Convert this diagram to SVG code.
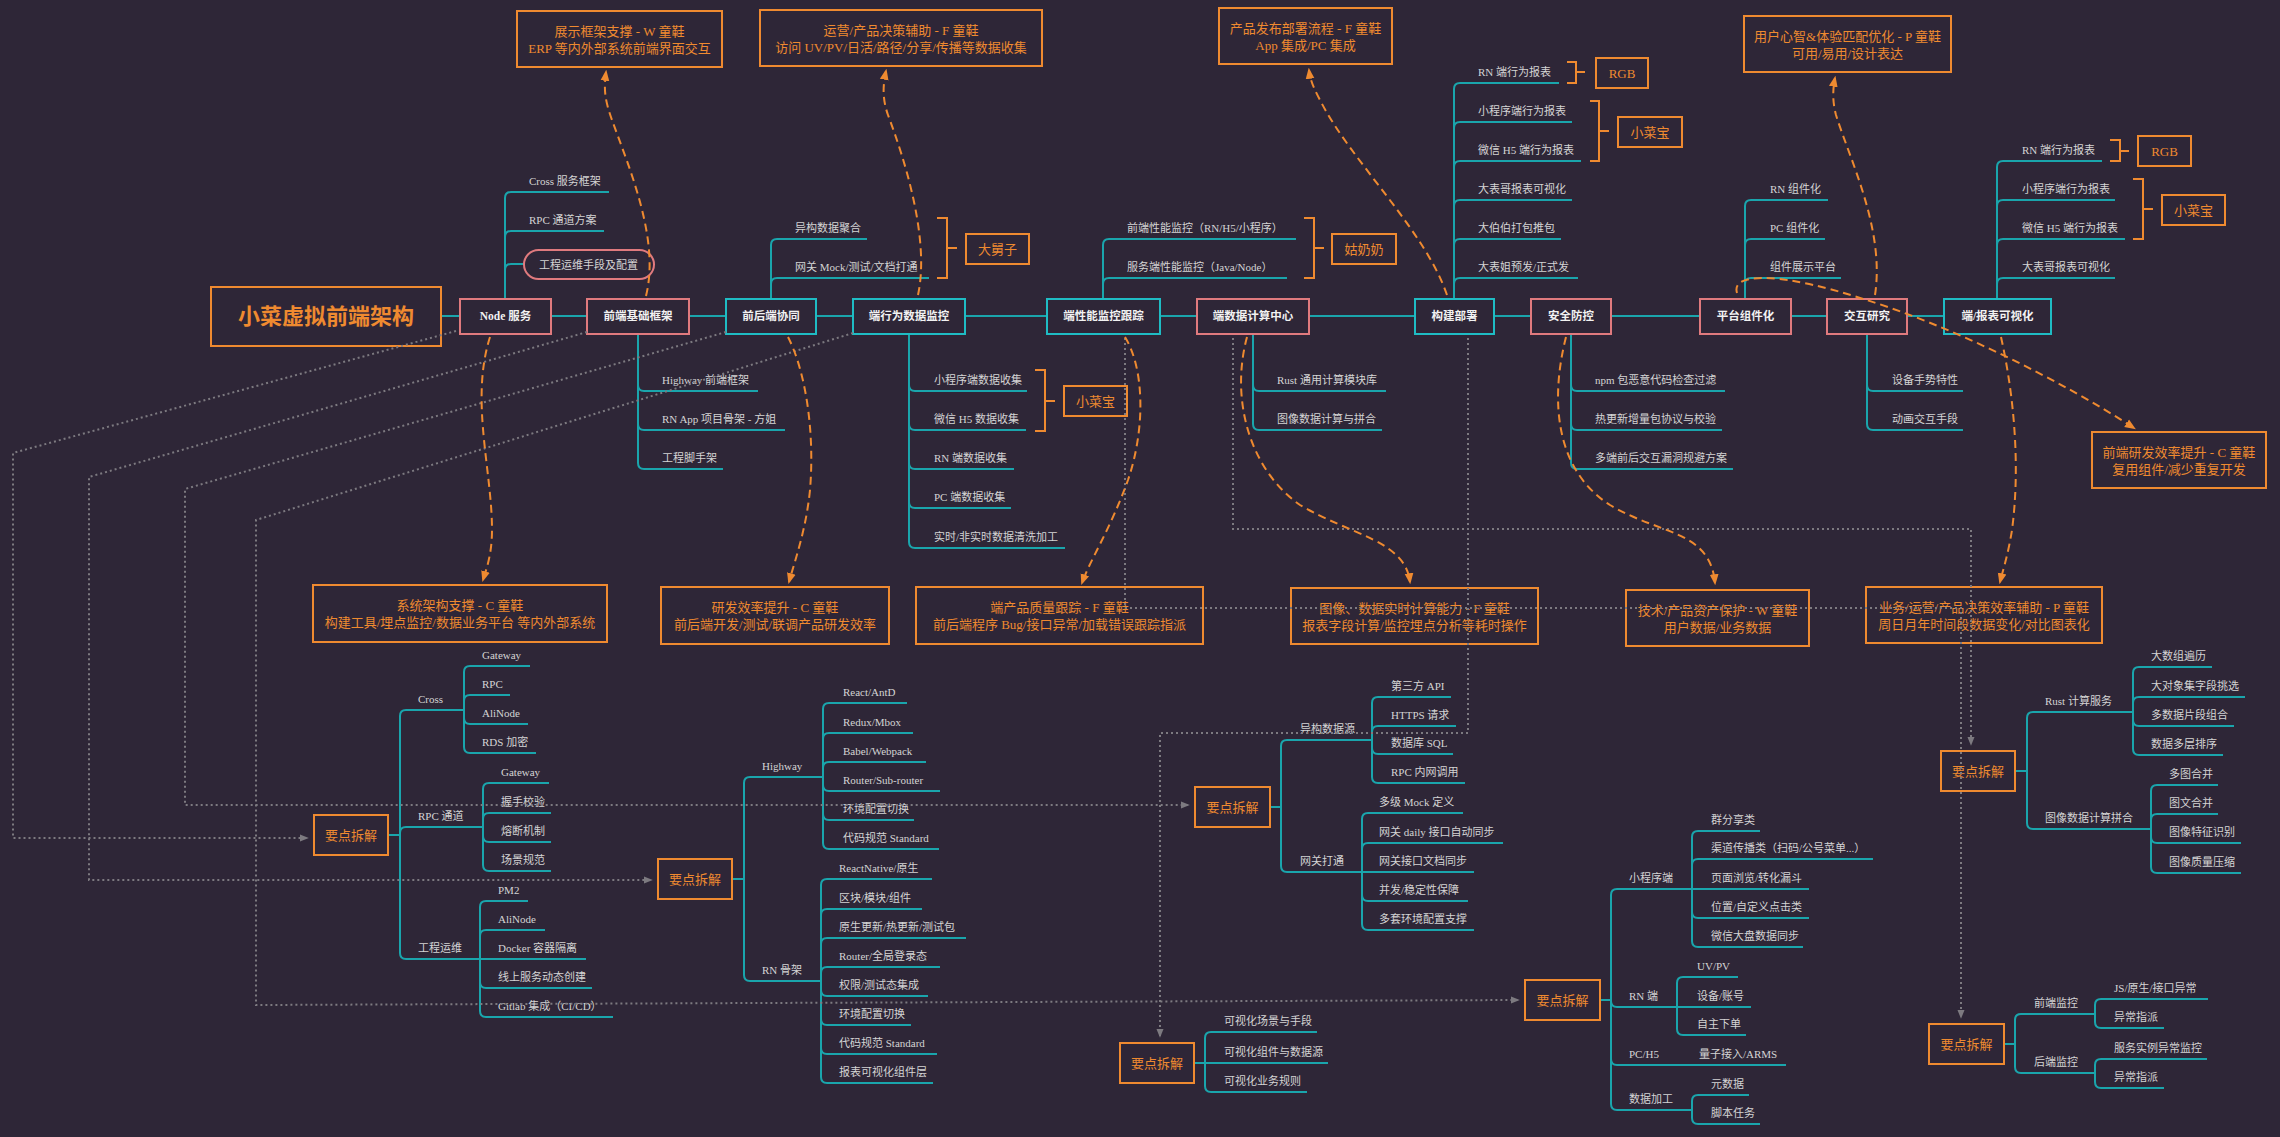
<svg xmlns="http://www.w3.org/2000/svg" width="2280" height="1137" viewBox="0 0 2280 1137">
<defs>
<style>
text { font-family: "Liberation Serif", "Noto Sans CJK SC", serif; }
.t { font-size: 11px; fill: #d4d4d4; }
.nt { font-size: 11.5px; font-weight: bold; fill: #f2f2f2; text-anchor: middle; }
.ot { font-size: 13px; fill: #ef8a30; text-anchor: middle; }
.tt { font-size: 22px; font-weight: bold; fill: #ef8a30; text-anchor: middle; }
.ob { fill: #2e2637; stroke: #ef8a30; stroke-width: 2; }
.pk { fill: #2e2637; stroke: #e07a7e; stroke-width: 2; }
.cy { fill: #2e2637; stroke: #1fbcc4; stroke-width: 2; }
.br { fill: none; stroke: #1aa5ac; stroke-width: 2; }
.bk { fill: none; stroke: #ef8a30; stroke-width: 2; }
.dt { fill: none; stroke: #7d7a80; stroke-width: 2; stroke-dasharray: 2 3; }
.ds { fill: none; stroke: #ef8a30; stroke-width: 2; stroke-dasharray: 8 5; }
</style>
<marker id="ao" viewBox="0 0 10 10" refX="8" refY="5" markerWidth="11" markerHeight="11" markerUnits="userSpaceOnUse" orient="auto"><path d="M0,1 L10,5 L0,9 z" fill="#ef8a30"/></marker>
<marker id="ag" viewBox="0 0 10 10" refX="8" refY="5" markerWidth="9" markerHeight="9" markerUnits="userSpaceOnUse" orient="auto"><path d="M0,1 L10,5 L0,9 z" fill="#7d7a80"/></marker>
</defs>
<rect width="2280" height="1137" fill="#2e2637"/>

<g id="tree-lines" class="br">
<path d="M441,316H1944"/>
<path d="M505,299V198Q505,192 511,192H609M505,299V237Q505,231 511,231H604M505,299V270Q505,264 511,264H524"/>
<path d="M638,334V385Q638,391 644,391H758M638,334V424Q638,430 644,430H785M638,334V463Q638,469 644,469H723"/>
<path d="M771,299V245Q771,239 777,239H867M771,299V284Q771,278 777,278H929"/>
<path d="M909,334V385Q909,391 915,391H1027M909,334V424Q909,430 915,430H1026M909,334V463Q909,469 915,469H1014M909,334V502Q909,508 915,508H1011M909,334V542Q909,548 915,548H1065"/>
<path d="M1103,299V245Q1103,239 1109,239H1296M1103,299V284Q1103,278 1109,278H1287"/>
<path d="M1253,334V385Q1253,391 1259,391H1386M1253,334V424Q1253,430 1259,430H1382"/>
<path d="M1454,299V89Q1454,83 1460,83H1559M1454,299V128Q1454,122 1460,122H1572M1454,299V167Q1454,161 1460,161H1581M1454,299V206Q1454,200 1460,200H1572M1454,299V245Q1454,239 1460,239H1561M1454,299V284Q1454,278 1460,278H1578"/>
<path d="M1571,334V385Q1571,391 1577,391H1725M1571,334V424Q1571,430 1577,430H1722M1571,334V463Q1571,469 1577,469H1733"/>
<path d="M1745,299V206Q1745,200 1751,200H1828M1745,299V245Q1745,239 1751,239H1825M1745,299V284Q1745,278 1751,278H1841"/>
<path d="M1867,334V385Q1867,391 1873,391H1963M1867,334V424Q1867,430 1873,430H1963"/>
<path d="M1997,299V167Q1997,161 2003,161H2102M1997,299V206Q1997,200 2003,200H2115M1997,299V245Q1997,239 2003,239H2125M1997,299V284Q1997,278 2003,278H2115"/>
<path d="M388,835H400M400,835V716Q400,710 406,710H464M400,835V833Q400,827 406,827H483M400,835V953Q400,959 406,959H480"/>
<path d="M464,710V672Q464,666 470,666H530M464,710V701Q464,695 470,695H510M464,710V718Q464,724 470,724H528M464,710V747Q464,753 470,753H536"/>
<path d="M483,827V789Q483,783 489,783H549M483,827V819Q483,813 489,813H551M483,827V836Q483,842 489,842H551M483,827V865Q483,871 489,871H551"/>
<path d="M480,959V907Q480,901 486,901H528M480,959V936Q480,930 486,930H545M480,959H586M480,959V982Q480,988 486,988H592M480,959V1011Q480,1017 486,1017H613"/>
<path d="M732,879H744M744,879V783Q744,777 750,777H823M744,879V975Q744,981 750,981H821"/>
<path d="M823,777V709Q823,703 829,703H907M823,777V739Q823,733 829,733H913M823,777V768Q823,762 829,762H926M823,777V785Q823,791 829,791H940M823,777V814Q823,820 829,820H914M823,777V843Q823,849 829,849H939"/>
<path d="M821,981V885Q821,879 827,879H932M821,981V915Q821,909 827,909H922M821,981V944Q821,938 827,938H966M821,981V973Q821,967 827,967H940M821,981V990Q821,996 827,996H928M821,981V1019Q821,1025 827,1025H911M821,981V1048Q821,1054 827,1054H937M821,981V1077Q821,1083 827,1083H933"/>
<path d="M1270,807H1281M1281,807V746Q1281,740 1287,740H1372M1281,807V866Q1281,872 1287,872H1362"/>
<path d="M1372,740V703Q1372,697 1378,697H1451M1372,740V732Q1372,726 1378,726H1456M1372,740V748Q1372,754 1378,754H1453M1372,740V777Q1372,783 1378,783H1465"/>
<path d="M1362,872V819Q1362,813 1368,813H1463M1362,872V849Q1362,843 1368,843H1503M1362,872H1474M1362,872V895Q1362,901 1368,901H1468M1362,872V924Q1362,930 1368,930H1474"/>
<path d="M1600,1000H1611M1611,1000V895Q1611,889 1617,889H1692M1611,1000V1001Q1611,1007 1617,1007H1677M1611,1000V1059Q1611,1065 1617,1065H1786M1611,1000V1104Q1611,1110 1617,1110H1692"/>
<path d="M1692,889V837Q1692,831 1698,831H1760M1692,889V865Q1692,859 1698,859H1873M1692,889H1809M1692,889V912Q1692,918 1698,918H1809M1692,889V941Q1692,947 1698,947H1803"/>
<path d="M1677,1007V983Q1677,977 1683,977H1738M1677,1007H1751M1677,1007V1029Q1677,1035 1683,1035H1746"/>
<path d="M1692,1110V1101Q1692,1095 1698,1095H1749M1692,1110V1118Q1692,1124 1698,1124H1760"/>
<path d="M2015,771H2027M2027,771V718Q2027,712 2033,712H2133M2027,771V823Q2027,829 2033,829H2151"/>
<path d="M2133,712V673Q2133,667 2139,667H2212M2133,712V703Q2133,697 2139,697H2245M2133,712V720Q2133,726 2139,726H2234M2133,712V749Q2133,755 2139,755H2223"/>
<path d="M2151,829V791Q2151,785 2157,785H2218M2151,829V820Q2151,814 2157,814H2218M2151,829V837Q2151,843 2157,843H2241M2151,829V867Q2151,873 2157,873H2241"/>
<path d="M2004,1044H2015M2015,1044V1020Q2015,1014 2021,1014H2095M2015,1044V1067Q2015,1073 2021,1073H2095"/>
<path d="M2095,1014V1005Q2095,999 2101,999H2208M2095,1014V1022Q2095,1028 2101,1028H2164M2095,1073V1065Q2095,1059 2101,1059H2207M2095,1073V1082Q2095,1088 2101,1088H2164"/>
<path d="M1194,1063H1205M1205,1063V1038Q1205,1032 1211,1032H1317M1205,1063H1328M1205,1063V1086Q1205,1092 1211,1092H1307"/>
</g>

<g id="labels">
<text class="t" x="529" y="185">Cross 服务框架</text>
<text class="t" x="529" y="224">RPC 通道方案</text>
<text class="t" x="662" y="384">Highway 前端框架</text>
<text class="t" x="662" y="423">RN App 项目骨架 - 方姐</text>
<text class="t" x="662" y="462">工程脚手架</text>
<text class="t" x="795" y="232">异构数据聚合</text>
<text class="t" x="795" y="271">网关 Mock/测试/文档打通</text>
<text class="t" x="934" y="384">小程序端数据收集</text>
<text class="t" x="934" y="423">微信 H5 数据收集</text>
<text class="t" x="934" y="462">RN 端数据收集</text>
<text class="t" x="934" y="501">PC 端数据收集</text>
<text class="t" x="934" y="541">实时/非实时数据清洗加工</text>
<text class="t" x="1127" y="232">前端性能监控（RN/H5/小程序）</text>
<text class="t" x="1127" y="271">服务端性能监控（Java/Node）</text>
<text class="t" x="1277" y="384">Rust 通用计算模块库</text>
<text class="t" x="1277" y="423">图像数据计算与拼合</text>
<text class="t" x="1478" y="76">RN 端行为报表</text>
<text class="t" x="1478" y="115">小程序端行为报表</text>
<text class="t" x="1478" y="154">微信 H5 端行为报表</text>
<text class="t" x="1478" y="193">大表哥报表可视化</text>
<text class="t" x="1478" y="232">大伯伯打包推包</text>
<text class="t" x="1478" y="271">大表姐预发/正式发</text>
<text class="t" x="1595" y="384">npm 包恶意代码检查过滤</text>
<text class="t" x="1595" y="423">热更新增量包协议与校验</text>
<text class="t" x="1595" y="462">多端前后交互漏洞规避方案</text>
<text class="t" x="1770" y="193">RN 组件化</text>
<text class="t" x="1770" y="232">PC 组件化</text>
<text class="t" x="1770" y="271">组件展示平台</text>
<text class="t" x="1892" y="384">设备手势特性</text>
<text class="t" x="1892" y="423">动画交互手段</text>
<text class="t" x="2022" y="154">RN 端行为报表</text>
<text class="t" x="2022" y="193">小程序端行为报表</text>
<text class="t" x="2022" y="232">微信 H5 端行为报表</text>
<text class="t" x="2022" y="271">大表哥报表可视化</text>

<text class="t" x="418" y="703">Cross</text>
<text class="t" x="418" y="820">RPC 通道</text>
<text class="t" x="418" y="952">工程运维</text>
<text class="t" x="482" y="659">Gateway</text>
<text class="t" x="482" y="688">RPC</text>
<text class="t" x="482" y="717">AliNode</text>
<text class="t" x="482" y="746">RDS 加密</text>
<text class="t" x="501" y="776">Gateway</text>
<text class="t" x="501" y="806">握手校验</text>
<text class="t" x="501" y="835">熔断机制</text>
<text class="t" x="501" y="864">场景规范</text>
<text class="t" x="498" y="894">PM2</text>
<text class="t" x="498" y="923">AliNode</text>
<text class="t" x="498" y="952">Docker 容器隔离</text>
<text class="t" x="498" y="981">线上服务动态创建</text>
<text class="t" x="498" y="1010">Gitlab 集成（CI/CD）</text>

<text class="t" x="762" y="770">Highway</text>
<text class="t" x="762" y="974">RN 骨架</text>
<text class="t" x="843" y="696">React/AntD</text>
<text class="t" x="843" y="726">Redux/Mbox</text>
<text class="t" x="843" y="755">Babel/Webpack</text>
<text class="t" x="843" y="784">Router/Sub-router</text>
<text class="t" x="843" y="813">环境配置切换</text>
<text class="t" x="843" y="842">代码规范 Standard</text>
<text class="t" x="839" y="872">ReactNative/原生</text>
<text class="t" x="839" y="902">区块/模块/组件</text>
<text class="t" x="839" y="931">原生更新/热更新/测试包</text>
<text class="t" x="839" y="960">Router/全局登录态</text>
<text class="t" x="839" y="989">权限/测试态集成</text>
<text class="t" x="839" y="1018">环境配置切换</text>
<text class="t" x="839" y="1047">代码规范 Standard</text>
<text class="t" x="839" y="1076">报表可视化组件层</text>

<text class="t" x="1300" y="733">异构数据源</text>
<text class="t" x="1300" y="865">网关打通</text>
<text class="t" x="1391" y="690">第三方 API</text>
<text class="t" x="1391" y="719">HTTPS 请求</text>
<text class="t" x="1391" y="747">数据库 SQL</text>
<text class="t" x="1391" y="776">RPC 内网调用</text>
<text class="t" x="1379" y="806">多级 Mock 定义</text>
<text class="t" x="1379" y="836">网关 daily 接口自动同步</text>
<text class="t" x="1379" y="865">网关接口文档同步</text>
<text class="t" x="1379" y="894">并发/稳定性保障</text>
<text class="t" x="1379" y="923">多套环境配置支撑</text>

<text class="t" x="1629" y="882">小程序端</text>
<text class="t" x="1629" y="1000">RN 端</text>
<text class="t" x="1629" y="1058">PC/H5</text>
<text class="t" x="1699" y="1058">量子接入/ARMS</text>
<text class="t" x="1629" y="1103">数据加工</text>
<text class="t" x="1711" y="824">群分享类</text>
<text class="t" x="1711" y="852">渠道传播类（扫码/公号菜单...）</text>
<text class="t" x="1711" y="882">页面浏览/转化漏斗</text>
<text class="t" x="1711" y="911">位置/自定义点击类</text>
<text class="t" x="1711" y="940">微信大盘数据同步</text>
<text class="t" x="1697" y="970">UV/PV</text>
<text class="t" x="1697" y="1000">设备/账号</text>
<text class="t" x="1697" y="1028">自主下单</text>
<text class="t" x="1711" y="1088">元数据</text>
<text class="t" x="1711" y="1117">脚本任务</text>

<text class="t" x="2045" y="705">Rust 计算服务</text>
<text class="t" x="2045" y="822">图像数据计算拼合</text>
<text class="t" x="2151" y="660">大数组遍历</text>
<text class="t" x="2151" y="690">大对象集字段挑选</text>
<text class="t" x="2151" y="719">多数据片段组合</text>
<text class="t" x="2151" y="748">数据多层排序</text>
<text class="t" x="2169" y="778">多图合并</text>
<text class="t" x="2169" y="807">图文合并</text>
<text class="t" x="2169" y="836">图像特征识别</text>
<text class="t" x="2169" y="866">图像质量压缩</text>

<text class="t" x="2034" y="1007">前端监控</text>
<text class="t" x="2034" y="1066">后端监控</text>
<text class="t" x="2114" y="992">JS/原生/接口异常</text>
<text class="t" x="2114" y="1021">异常指派</text>
<text class="t" x="2114" y="1052">服务实例异常监控</text>
<text class="t" x="2114" y="1081">异常指派</text>

<text class="t" x="1224" y="1025">可视化场景与手段</text>
<text class="t" x="1224" y="1056">可视化组件与数据源</text>
<text class="t" x="1224" y="1085">可视化业务规则</text>
</g>

<g id="brackets" class="bk">
<path d="M937,218H947V278H937M947,248H957"/>
<path d="M1035,370H1045V431H1035M1045,401H1055"/>
<path d="M1304,218H1314V278H1304M1314,248H1324"/>
<path d="M1567,62H1576V83H1567M1576,72H1585"/>
<path d="M1590,101H1599V161H1590M1599,131H1609"/>
<path d="M2110,140H2120V161H2110M2120,151H2129"/>
<path d="M2133,179H2143V239H2133M2143,209H2153"/>
</g>

<g id="root"><rect class="ob" x="211" y="287" width="230" height="59"/><text class="tt" x="326" y="324">小菜虚拟前端架构</text></g>
<g id="n-node"><rect class="pk" x="460" y="299" width="91" height="35"/><text class="nt" x="505.5" y="320">Node 服务</text></g>
<g id="n-pill"><rect class="pk" x="524" y="250" width="130" height="29" rx="14.5"/><text class="t" x="539" y="268.5">工程运维手段及配置</text></g>
<g id="n-base"><rect class="pk" x="587" y="299" width="102" height="35"/><text class="nt" x="638" y="320">前端基础框架</text></g>
<g id="n-collab"><rect class="cy" x="726" y="299" width="90" height="35"/><text class="nt" x="771" y="320">前后端协同</text></g>
<g id="n-behav"><rect class="cy" x="853" y="299" width="112" height="35"/><text class="nt" x="909" y="320">端行为数据监控</text></g>
<g id="n-perf"><rect class="cy" x="1047" y="299" width="113" height="35"/><text class="nt" x="1103.5" y="320">端性能监控跟踪</text></g>
<g id="n-calc"><rect class="pk" x="1197" y="299" width="112" height="35"/><text class="nt" x="1253" y="320">端数据计算中心</text></g>
<g id="n-build"><rect class="cy" x="1415" y="299" width="79" height="35"/><text class="nt" x="1454.5" y="320">构建部署</text></g>
<g id="n-sec"><rect class="pk" x="1531" y="299" width="80" height="35"/><text class="nt" x="1571" y="320">安全防控</text></g>
<g id="n-comp"><rect class="pk" x="1700" y="299" width="91" height="35"/><text class="nt" x="1745.5" y="320">平台组件化</text></g>
<g id="n-inter"><rect class="pk" x="1827" y="299" width="80" height="35"/><text class="nt" x="1867" y="320">交互研究</text></g>
<g id="n-vis"><rect class="cy" x="1944" y="299" width="107" height="35"/><text class="nt" x="1997.5" y="320">端/报表可视化</text></g>

<g id="tag-dajiuzi"><rect class="ob" x="966" y="234" width="63" height="30"/><text class="ot" x="997.5" y="254">大舅子</text></g>
<g id="tag-xcb1"><rect class="ob" x="1064" y="386" width="63" height="30"/><text class="ot" x="1095.5" y="406">小菜宝</text></g>
<g id="tag-gunainai"><rect class="ob" x="1332" y="234" width="64" height="30"/><text class="ot" x="1364" y="254">姑奶奶</text></g>
<g id="tag-rgb1"><rect class="ob" x="1596" y="58" width="52" height="30"/><text class="ot" x="1622" y="78">RGB</text></g>
<g id="tag-xcb2"><rect class="ob" x="1618" y="117" width="64" height="30"/><text class="ot" x="1650" y="137">小菜宝</text></g>
<g id="tag-rgb2"><rect class="ob" x="2138" y="136" width="53" height="30"/><text class="ot" x="2164.5" y="156">RGB</text></g>
<g id="tag-xcb3"><rect class="ob" x="2162" y="195" width="63" height="30"/><text class="ot" x="2193.5" y="215">小菜宝</text></g>

<g id="goal-1"><rect class="ob" x="517" y="11" width="205" height="56"/><text class="ot" x="619.5" y="36">展示框架支撑 - W 童鞋</text><text class="ot" x="619.5" y="53">ERP 等内外部系统前端界面交互</text></g>
<g id="goal-2"><rect class="ob" x="760" y="10" width="282" height="56"/><text class="ot" x="901" y="35">运营/产品决策辅助 - F 童鞋</text><text class="ot" x="901" y="52">访问 UV/PV/日活/路径/分享/传播等数据收集</text></g>
<g id="goal-3"><rect class="ob" x="1219" y="8" width="173" height="56"/><text class="ot" x="1305.5" y="33">产品发布部署流程 - F 童鞋</text><text class="ot" x="1305.5" y="50">App 集成/PC 集成</text></g>
<g id="goal-4"><rect class="ob" x="1744" y="16" width="207" height="56"/><text class="ot" x="1847.5" y="41">用户心智&amp;体验匹配优化 - P 童鞋</text><text class="ot" x="1847.5" y="58">可用/易用/设计表达</text></g>
<g id="goal-5"><rect class="ob" x="313" y="585" width="294" height="57"/><text class="ot" x="460" y="610">系统架构支撑 - C 童鞋</text><text class="ot" x="460" y="627">构建工具/埋点监控/数据业务平台 等内外部系统</text></g>
<g id="goal-6"><rect class="ob" x="661" y="587" width="228" height="57"/><text class="ot" x="775" y="612">研发效率提升 - C 童鞋</text><text class="ot" x="775" y="629">前后端开发/测试/联调产品研发效率</text></g>
<g id="goal-7"><rect class="ob" x="916" y="587" width="287" height="57"/><text class="ot" x="1059.5" y="612">端产品质量跟踪 - F 童鞋</text><text class="ot" x="1059.5" y="629">前后端程序 Bug/接口异常/加载错误跟踪指派</text></g>
<g id="goal-8"><rect class="ob" x="1291" y="588" width="247" height="56"/><text class="ot" x="1414.5" y="613">图像、数据实时计算能力 - F 童鞋</text><text class="ot" x="1414.5" y="630">报表字段计算/监控埋点分析等耗时操作</text></g>
<g id="goal-9"><rect class="ob" x="1626" y="590" width="183" height="56"/><text class="ot" x="1717.5" y="615">技术/产品资产保护 - W 童鞋</text><text class="ot" x="1717.5" y="632">用户数据/业务数据</text></g>
<g id="goal-10"><rect class="ob" x="1866" y="587" width="236" height="56"/><text class="ot" x="1984" y="612">业务/运营/产品决策效率辅助 - P 童鞋</text><text class="ot" x="1984" y="629">周日月年时间段数据变化/对比图表化</text></g>
<g id="goal-11"><rect class="ob" x="2092" y="432" width="174" height="56"/><text class="ot" x="2179" y="457">前端研发效率提升 - C 童鞋</text><text class="ot" x="2179" y="474">复用组件/减少重复开发</text></g>

<g id="key-1"><rect class="ob" x="314" y="815" width="74" height="40"/><text class="ot" x="351" y="840">要点拆解</text></g>
<g id="key-2"><rect class="ob" x="658" y="859" width="74" height="40"/><text class="ot" x="695" y="884">要点拆解</text></g>
<g id="key-3"><rect class="ob" x="1195" y="787" width="75" height="40"/><text class="ot" x="1232.5" y="812">要点拆解</text></g>
<g id="key-4"><rect class="ob" x="1525" y="980" width="75" height="40"/><text class="ot" x="1562.5" y="1005">要点拆解</text></g>
<g id="key-5"><rect class="ob" x="1941" y="751" width="74" height="40"/><text class="ot" x="1978" y="776">要点拆解</text></g>
<g id="key-6"><rect class="ob" x="1929" y="1024" width="75" height="40"/><text class="ot" x="1966.5" y="1049">要点拆解</text></g>
<g id="key-7"><rect class="ob" x="1120" y="1043" width="74" height="40"/><text class="ot" x="1157" y="1068">要点拆解</text></g>

<g id="connectors">
<path class="dt" marker-end="url(#ag)" d="M456,331L13,453V838H307"/>
<path class="dt" marker-end="url(#ag)" d="M587,332L89,477V880H651"/>
<path class="dt" marker-end="url(#ag)" d="M726,332L185,489V805H1188"/>
<path class="dt" marker-end="url(#ag)" d="M853,333L256,520V1005L1518,1000"/>
<path class="dt" marker-end="url(#ag)" d="M1125,338V608H1961V1017"/>
<path class="dt" marker-end="url(#ag)" d="M1233,338V529H1971V744"/>
<path class="dt" marker-end="url(#ag)" d="M1468,338V733H1160V1036"/>
<path class="ds" marker-end="url(#ao)" d="M646,296C660,240 630,170 612,120C604,98 604,88 606,72"/>
<path class="ds" marker-end="url(#ao)" d="M918,295C930,240 905,160 888,115C882,98 883,85 886,71"/>
<path class="ds" marker-end="url(#ao)" d="M1447,295C1425,230 1350,160 1320,100C1312,85 1310,78 1309,70"/>
<path class="ds" marker-end="url(#ao)" d="M1875,295C1885,230 1850,160 1836,115C1832,100 1833,88 1835,78"/>
<path class="ds" marker-end="url(#ao)" d="M490,337C470,400 492,470 492,530C492,555 486,570 483,580"/>
<path class="ds" marker-end="url(#ao)" d="M788,337C805,370 815,430 810,490C806,530 795,560 789,582"/>
<path class="ds" marker-end="url(#ao)" d="M1125,337C1145,370 1145,430 1128,480C1110,530 1090,560 1082,583"/>
<path class="ds" marker-end="url(#ao)" d="M1247,337C1230,400 1250,470 1300,505C1350,535 1405,540 1410,582"/>
<path class="ds" marker-end="url(#ao)" d="M1566,337C1550,400 1555,470 1610,505C1660,535 1710,530 1715,583"/>
<path class="ds" marker-end="url(#ao)" d="M2001,337C2015,400 2020,470 2012,530C2008,555 2003,570 2000,582"/>
<path class="ds" marker-end="url(#ao)" d="M1737,293C1730,270 1790,275 1860,298C1950,325 2060,380 2134,428"/>
</g>
</svg>
